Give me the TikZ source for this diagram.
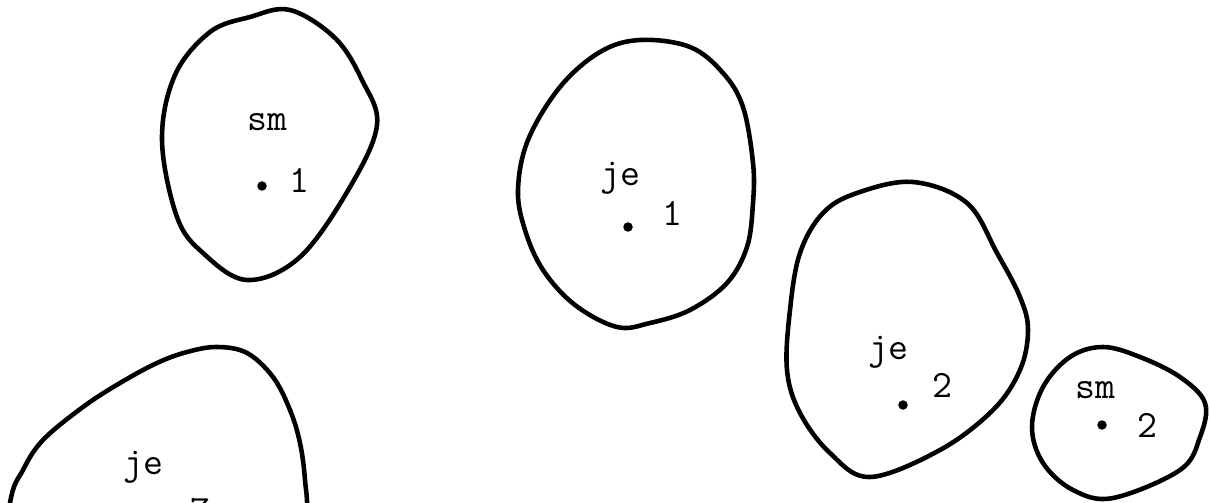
\documentclass[tikz,border=0pt]{standalone}
\usepackage{tikz}
\usetikzlibrary{positioning}

\begin{document}
\begin{tikzpicture}[
		x=0.02cm, y=-0.02cm,
		blob/.style={draw, line width=2.6pt, line join=round},
		lbl/.style={font=\fontsize{22}{24}\selectfont\ttfamily, inner sep=0pt},
		pt/.style={circle, fill, inner sep=0pt, minimum size=0.19cm}
		]
		
		\useasboundingbox (0,0) rectangle (1211,503);
		\clip (0,0) rectangle (1211,503);
		
		% upper left, sm 1
		\draw[blob] plot[smooth cycle, tension=0.6] coordinates {
			(290,10) (335,38) (362,80) (377,125) (350,187) (300,257) (247,280)
			(203,253) (177,217) (162,140) (175,75) (210,32) (250,17)};
		\node[lbl] (sma) at (267,122) {sm};
		\node[pt] (pa) at (262,186) {};
		\node[lbl] (na) at (299,180) {1};
		
		% middle, je 1
		\draw[blob] plot[smooth cycle, tension=0.6] coordinates {
			(640,40) (690,47) (723,73) (743,107) (753,163) (753,203)
			(747,247) (727,283) (690,310) (650,323) (617,327) (575,305)
			(543,270) (525,230) (518,190) (528,140) (560,87) (600,52)};
		\node[lbl] (jeb) at (620,178) {je};
		\node[pt] (pb) at (628,227) {};
		\node[lbl] (nb) at (672,213) {1};
		
		% right, je 2
		\draw[blob] plot[smooth cycle, tension=0.6] coordinates {
			(913,182) (967,203) (997,253) (1020,297) (1028,330) (1020,370)
			(993,410) (940,450) (870,477) (830,453) (800,413) (787,370)
			(790,310) (800,253) (823,213) (857,193)};
		\node[lbl] (jec) at (888,352) {je};
		\node[pt] (pc) at (903,405) {};
		\node[lbl] (nc) at (942,385) {2};
		
		% far right, sm 2
		\draw[blob] plot[smooth cycle, tension=0.6] coordinates {
			(1103,347) (1140,357) (1180,377) (1205,403) (1200,437) (1180,470)
			(1113,498) (1073,490) (1043,463) (1032,427) (1043,387) (1070,357)};
		\node[lbl] (smd) at (1095,390) {sm};
		\node[pt] (pd) at (1102,425) {};
		\node[lbl] (nd) at (1147,425) {2};
		
		% lower left, je 7 (cut by the page edge)
		\draw[blob] plot[smooth cycle, tension=0.6] coordinates {
			(217,347) (247,353) (273,377) (290,410) (300,443) (305,480)
			(306,520) (290,600) (150,640) (0,600) (10,503) (23,470)
			(43,440) (83,407) (120,383) (157,363) (187,352)};
		\node[lbl] (jee) at (143,467) {je};
		\node[lbl] (ne) at (200,511) {7};
		
	\end{tikzpicture}
\end{document}
